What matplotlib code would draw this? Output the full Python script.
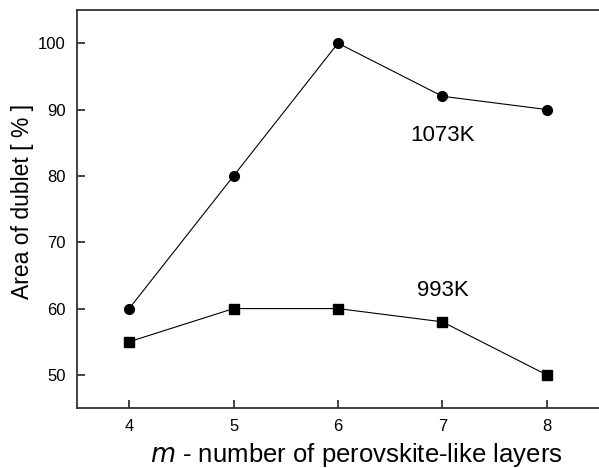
import matplotlib.pyplot as plt

plt.rcParams['font.family'] = ['Liberation Sans', 'DejaVu Sans']

# layers m
m_layers = [4, 5, 6, 7, 8]
# area of dublet [%]
area_1073K = [60, 80, 100, 92, 90]
area_993K = [55, 60, 60, 58, 50]

fig = plt.figure(figsize=(5.99, 4.68), dpi=100)
ax = fig.add_axes([0.1285, 0.128, 0.8715, 0.8506])

ax.plot(m_layers, area_1073K, color='black', linewidth=0.8, marker='o', markersize=7)
ax.plot(m_layers, area_993K, color='black', linewidth=0.8, marker='s', markersize=6.5)

ax.text(7.0, 86.1, '1073K', fontsize=16, ha='center', va='center')
ax.text(7.0, 62.7, '993K', fontsize=16, ha='center', va='center')

ax.set_xlim(3.5, 8.5)
ax.set_ylim(45, 105)
ax.set_xticks(m_layers)
ax.set_yticks([50, 60, 70, 80, 90, 100])
ax.tick_params(direction='in', length=6, width=1.2, labelsize=12, pad=8, colors='#222222')
ax.tick_params(axis='both', labelcolor='black')

for side in ['left', 'bottom', 'top']:
    ax.spines[side].set_linewidth(1.3)
    ax.spines[side].set_color('#333333')
ax.spines['right'].set_visible(False)

ax.set_xlabel('$m$ - number of perovskite-like layers', fontsize=18.5)
ax.xaxis.set_label_coords(0.536, -0.083)
ax.set_ylabel('Area of dublet [ % ]', fontsize=16.5)
ax.yaxis.set_label_coords(-0.082, 0.52)

plt.savefig('out.png', dpi=100)
